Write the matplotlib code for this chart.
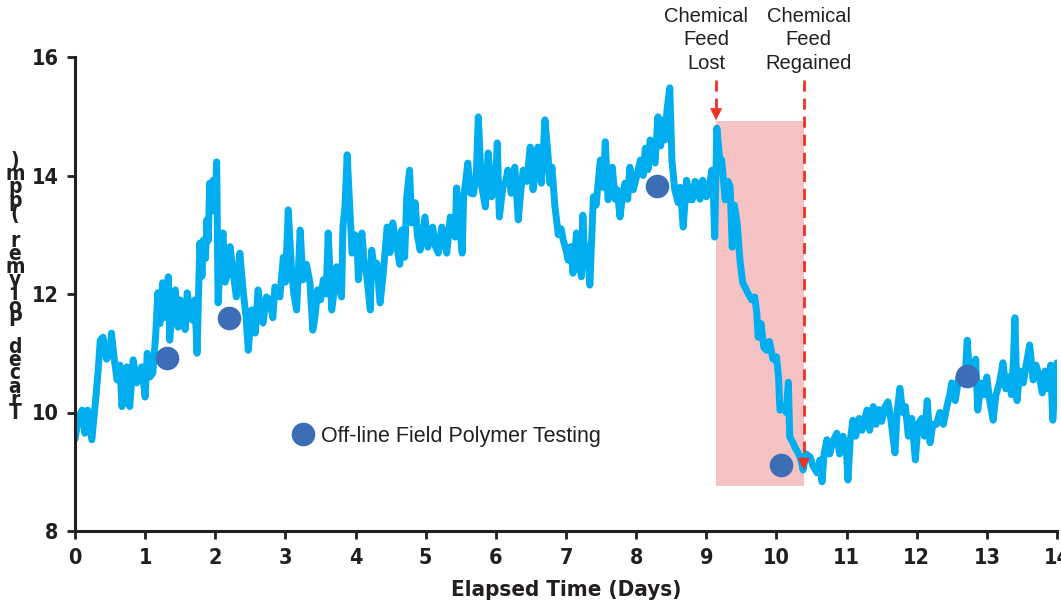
import matplotlib
matplotlib.use("Agg")
import matplotlib.pyplot as plt
from matplotlib.lines import Line2D
from matplotlib import font_manager as fm

# ---------------- data ----------------
days = [0.00, 0.05, 0.10, 0.14, 0.18, 0.24, 0.29, 0.33, 0.36, 0.40, 0.45, 0.50, 0.52, 0.56, 0.60, 0.64,
        0.67, 0.70, 0.74, 0.78, 0.83, 0.88, 0.95, 1.00, 1.03, 1.07, 1.11, 1.15, 1.18, 1.21, 1.25, 1.29,
        1.33, 1.35, 1.39, 1.43, 1.47, 1.50, 1.54, 1.57, 1.60, 1.64, 1.67, 1.71, 1.74, 1.78, 1.81, 1.83,
        1.86, 1.88, 1.90, 1.92, 1.95, 1.97, 2.00, 2.02, 2.04, 2.07, 2.11, 2.14, 2.18, 2.21, 2.25, 2.30,
        2.35, 2.40, 2.44, 2.47, 2.52, 2.57, 2.61, 2.65, 2.68, 2.73, 2.78, 2.82, 2.85, 2.92, 2.97, 3.00,
        3.04, 3.09, 3.12, 3.16, 3.21, 3.25, 3.30, 3.35, 3.39, 3.42, 3.46, 3.50, 3.54, 3.58, 3.61, 3.66,
        3.70, 3.73, 3.77, 3.80, 3.82, 3.85, 3.88, 3.92, 3.95, 3.99, 4.02, 4.04, 4.09, 4.12, 4.16, 4.21,
        4.23, 4.27, 4.30, 4.35, 4.39, 4.45, 4.49, 4.53, 4.59, 4.63, 4.66, 4.70, 4.73, 4.77, 4.80, 4.85,
        4.88, 4.92, 4.99, 5.03, 5.07, 5.10, 5.14, 5.18, 5.23, 5.27, 5.30, 5.35, 5.42, 5.44, 5.48, 5.52,
        5.54, 5.57, 5.60, 5.64, 5.68, 5.72, 5.75, 5.78, 5.80, 5.85, 5.89, 5.94, 5.98, 6.00, 6.02, 6.05,
        6.10, 6.14, 6.17, 6.22, 6.27, 6.32, 6.36, 6.39, 6.44, 6.49, 6.53, 6.57, 6.60, 6.65, 6.70, 6.74,
        6.77, 6.80, 6.84, 6.89, 6.93, 6.96, 7.00, 7.03, 7.07, 7.10, 7.15, 7.18, 7.22, 7.24, 7.27, 7.30,
        7.34, 7.39, 7.43, 7.46, 7.49, 7.53, 7.56, 7.60, 7.63, 7.66, 7.70, 7.73, 7.77, 7.80, 7.84, 7.88,
        7.91, 7.96, 8.01, 8.06, 8.10, 8.13, 8.17, 8.20, 8.24, 8.27, 8.31, 8.35, 8.38, 8.41, 8.44, 8.48,
        8.51, 8.55, 8.60, 8.63, 8.67, 8.72, 8.76, 8.80, 8.84, 8.87, 8.91, 8.95, 9.00, 9.04, 9.08, 9.10,
        9.12, 9.15, 9.19, 9.22, 9.27, 9.31, 9.34, 9.37, 9.40, 9.44, 9.48, 9.52, 9.55, 9.60, 9.65, 9.69,
        9.72, 9.74, 9.78, 9.82, 9.86, 9.90, 9.95, 10.00, 10.03, 10.05, 10.10, 10.14, 10.17, 10.19, 10.23, 10.27,
        10.31, 10.35, 10.38, 10.42, 10.48, 10.52, 10.58, 10.62, 10.65, 10.68, 10.72, 10.76, 10.80, 10.86, 10.90, 10.95,
        11.00, 11.02, 11.05, 11.09, 11.13, 11.18, 11.22, 11.29, 11.33, 11.38, 11.42, 11.46, 11.50, 11.55, 11.59, 11.63,
        11.66, 11.69, 11.72, 11.76, 11.80, 11.84, 11.88, 11.93, 11.98, 12.02, 12.07, 12.11, 12.15, 12.19, 12.23, 12.28,
        12.33, 12.38, 12.43, 12.47, 12.50, 12.55, 12.60, 12.65, 12.70, 12.72, 12.75, 12.80, 12.84, 12.87, 12.92, 12.96,
        13.00, 13.04, 13.09, 13.13, 13.18, 13.23, 13.27, 13.31, 13.35, 13.38, 13.40, 13.43, 13.47, 13.52, 13.56, 13.61,
        13.66, 13.70, 13.75, 13.79, 13.83, 13.87, 13.91, 13.94, 13.97, 14.00]

ppm = [9.55, 9.90, 10.04, 9.65, 10.04, 9.54, 10.16, 10.70, 11.22, 11.27, 10.90, 11.00, 11.34, 10.90, 10.55, 10.80,
       10.10, 10.50, 10.77, 10.10, 10.89, 10.50, 10.77, 10.26, 11.00, 10.60, 10.67, 11.30, 12.02, 11.50, 12.19, 11.60,
       12.29, 11.22, 11.80, 12.07, 11.44, 11.90, 11.78, 11.40, 12.02, 11.70, 11.56, 11.90, 11.00, 12.86, 12.30, 12.91,
       12.60, 13.25, 12.90, 13.87, 13.40, 13.92, 13.60, 14.23, 11.85, 12.50, 13.03, 12.20, 12.35, 12.80, 12.41, 11.95,
       12.69, 12.02, 11.60, 11.05, 11.73, 11.34, 12.07, 11.70, 11.51, 11.95, 11.90, 11.60, 12.12, 11.95, 12.62, 12.20,
       13.42, 12.35, 12.00, 11.73, 13.08, 12.24, 12.50, 12.19, 11.39, 11.60, 12.07, 11.90, 12.24, 12.00, 13.03, 11.73,
       12.10, 12.46, 12.10, 11.95, 13.13, 13.50, 14.35, 13.42, 12.69, 13.00, 12.91, 12.24, 13.03, 12.60, 12.29, 11.73,
       12.74, 12.40, 12.52, 11.85, 12.29, 13.13, 12.70, 13.20, 12.79, 12.50, 13.08, 12.62, 13.64, 14.09, 13.20, 13.54,
       13.00, 12.74, 13.30, 12.79, 13.00, 13.13, 12.80, 12.69, 13.13, 12.90, 12.69, 13.30, 12.96, 13.79, 13.20, 12.69,
       13.64, 13.90, 14.21, 13.70, 13.69, 14.00, 14.99, 14.20, 13.81, 13.47, 14.38, 13.64, 14.00, 14.00, 14.55, 13.30,
       13.81, 13.90, 14.09, 13.70, 14.14, 13.25, 13.80, 14.09, 13.90, 14.48, 13.76, 14.10, 14.48, 13.87, 14.94, 14.40,
       13.87, 14.14, 13.50, 13.00, 13.10, 12.91, 12.75, 12.57, 12.80, 12.35, 13.03, 12.60, 12.29, 13.33, 12.50, 12.80,
       12.15, 13.64, 13.50, 13.90, 14.26, 13.80, 14.57, 13.59, 13.90, 14.14, 13.60, 13.76, 13.30, 13.60, 13.87, 13.60,
       14.14, 13.76, 14.00, 14.26, 14.00, 14.46, 14.10, 14.60, 14.30, 14.21, 14.99, 14.50, 14.94, 14.60, 15.11, 15.48,
       14.26, 13.76, 13.54, 13.80, 13.13, 13.92, 13.60, 13.59, 13.90, 13.87, 13.60, 13.92, 13.64, 13.80, 14.09, 13.70,
       12.96, 14.80, 14.30, 14.26, 13.59, 13.90, 13.81, 12.79, 13.50, 13.20, 12.57, 12.19, 12.12, 12.00, 11.90, 11.95,
       11.68, 11.27, 11.50, 11.10, 11.05, 11.20, 10.90, 10.94, 10.60, 10.04, 10.10, 10.00, 10.51, 9.59, 9.50, 9.40,
       9.32, 9.20, 9.03, 9.30, 9.25, 9.10, 8.98, 9.20, 8.83, 9.30, 9.54, 9.30, 9.50, 9.65, 9.30, 9.60,
       9.30, 8.86, 9.50, 9.87, 9.60, 9.90, 9.70, 10.04, 9.70, 10.10, 9.80, 10.05, 9.85, 10.10, 10.18, 9.90,
       9.60, 9.32, 10.00, 10.41, 10.00, 10.10, 9.60, 9.90, 9.20, 9.80, 9.90, 9.60, 10.20, 9.49, 9.80, 9.80,
       10.00, 9.80, 10.10, 10.30, 10.50, 10.20, 10.60, 10.50, 10.80, 11.22, 10.70, 10.60, 10.90, 10.04, 10.50, 10.30,
       10.60, 10.20, 9.87, 10.30, 10.50, 10.84, 10.40, 10.60, 10.30, 10.90, 11.60, 10.20, 10.70, 10.50, 10.80, 11.14,
       10.55, 10.80, 10.60, 10.33, 10.70, 10.40, 10.80, 9.87, 10.40, 10.84]

test_days = [1.31, 2.20, 8.30, 10.07, 12.72]
test_ppm = [10.92, 11.60, 13.82, 9.11, 10.62]

feed_lost_day = 9.14
feed_regained_day = 10.39
shade_y = (8.76, 14.92)

x_ticks = list(range(0, 15))
y_ticks = [8, 10, 12, 14, 16]

x_label = "Elapsed Time (Days)"
y_label = "Traced Polymer (ppm)"
legend_label = "Off-line Field Polymer Testing"
lost_text = "Chemical\nFeed\nLost"
regained_text = "Chemical\nFeed\nRegained"

# ---------------- style ----------------
LINE_C = "#00AEEF"
MARK_C = "#3D6DB5"
RED = "#EE3124"
SHADE = "#F5C3C3"
INK = "#231F20"
REG = ["Liberation Sans", "DejaVu Sans"]

# pick a condensed bold face if one is installed
narrow_names = {f.name for f in fm.fontManager.ttflist}
if "Liberation Sans Narrow" in narrow_names:
    NARROW = dict(family=["Liberation Sans Narrow", "DejaVu Sans"])
else:
    NARROW = dict(family=["DejaVu Sans"], stretch="condensed")

fig = plt.figure(figsize=(10.61, 6.06), dpi=100)
ax = fig.add_axes([75 / 1061, 1 - 531 / 606, 982 / 1061, 474 / 606])

ax.set_xlim(0, 14)
ax.set_ylim(8, 16)

# shaded region
ax.fill_between([feed_lost_day, feed_regained_day], shade_y[0], shade_y[1],
                color=SHADE, lw=0, zorder=1)

# main trace
ax.plot(days, ppm, color=LINE_C, lw=5.0, solid_joinstyle="round",
        solid_capstyle="round", zorder=2)

# off-line test points
ax.plot(test_days, test_ppm, "o", ms=17, color=MARK_C, mec="none", zorder=4)

# red dashed lines + arrowheads
ax.plot([feed_lost_day, feed_lost_day], [15.62, 15.1], color=RED, lw=2.0,
        dashes=(4, 2.5), clip_on=False, zorder=5)
ax.annotate("", xy=(feed_lost_day, 14.93), xytext=(feed_lost_day, 15.2),
            arrowprops=dict(arrowstyle="-|>", color=RED, lw=0, mutation_scale=22,
                            shrinkA=0, shrinkB=0), annotation_clip=False, zorder=5)
ax.plot([feed_regained_day, feed_regained_day], [15.62, 9.25], color=RED, lw=2.0,
        dashes=(4, 2.5), clip_on=False, zorder=5)
ax.annotate("", xy=(feed_regained_day, 9.03), xytext=(feed_regained_day, 9.3),
            arrowprops=dict(arrowstyle="-|>", color=RED, lw=0, mutation_scale=22,
                            shrinkA=0, shrinkB=0), annotation_clip=False, zorder=5)

# event labels
ax.text(9.0, 16.84, lost_text, ha="center", va="top", fontsize=14.5,
        family=REG, color=INK, linespacing=1.28, clip_on=False)
ax.text(10.46, 16.84, regained_text, ha="center", va="top", fontsize=14.5,
        family=REG, color=INK, linespacing=1.28, clip_on=False)

# legend
h = Line2D([], [], marker="o", ls="none", ms=17, color=MARK_C, mec="none")
leg = ax.legend([h], [legend_label], loc="center left", bbox_to_anchor=(0.221, 0.2),
                frameon=False, handlelength=1.0, handletextpad=0.35, borderpad=0,
                borderaxespad=0, prop=dict(family=REG, size=15.5))
for t in leg.get_texts():
    t.set_color(INK)

# axes styling
for s in ("top", "right"):
    ax.spines[s].set_visible(False)
for s in ("left", "bottom"):
    ax.spines[s].set_linewidth(2.2)
    ax.spines[s].set_color(INK)

ax.set_xticks(x_ticks)
ax.set_yticks(y_ticks)
ax.tick_params(axis="both", direction="out", length=6, width=2, color=INK,
               labelcolor=INK, labelsize=15.5, pad=6)
for lab in ax.get_xticklabels() + ax.get_yticklabels():
    lab.set_fontweight("bold")
    lab.set_family(NARROW["family"])
    if "stretch" in NARROW:
        lab.set_stretch(NARROW["stretch"])

ax.set_xlabel(x_label, fontsize=16, fontweight="bold", color=INK, labelpad=9, **NARROW)

# y label: upright characters stacked bottom to top, as in the reference
fig.text(15 / 1061, 1 - 287 / 606, "\n".join(reversed(y_label)), ha="center",
         va="center", fontsize=15, fontweight="bold", color=INK,
         linespacing=0.58, **NARROW)

fig.savefig("out.png", dpi=100)
